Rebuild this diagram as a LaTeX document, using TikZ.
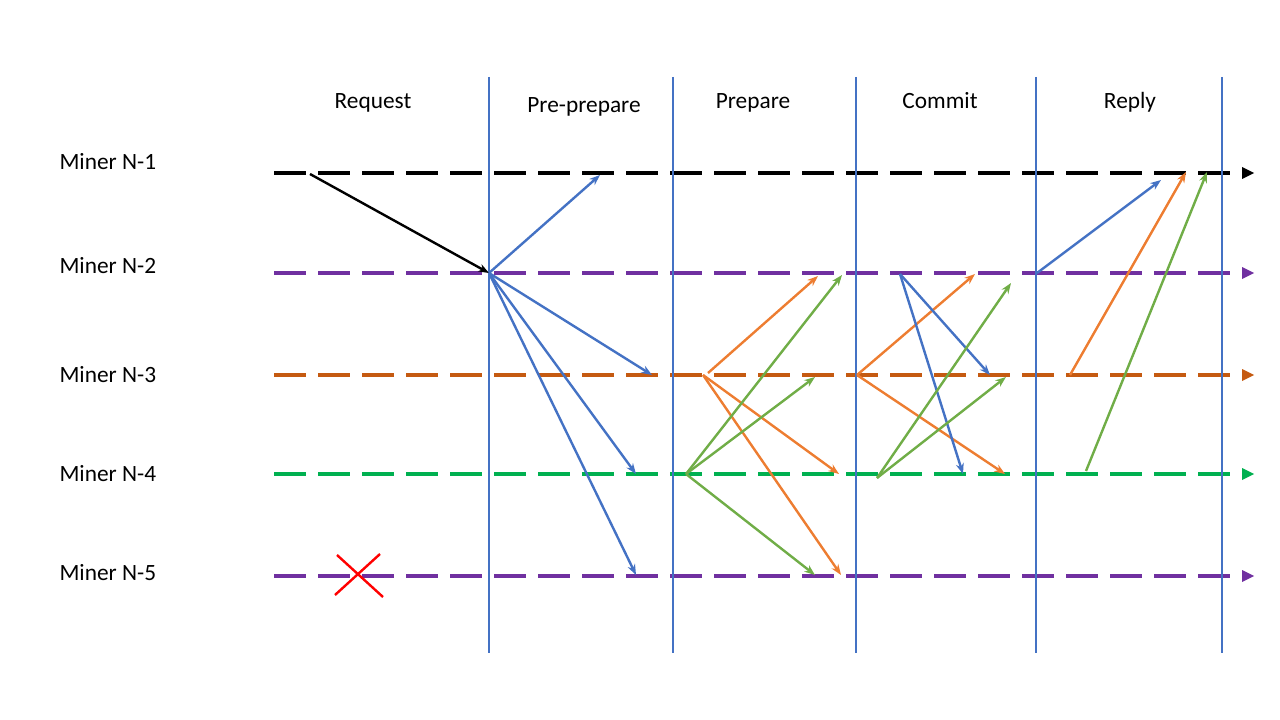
\documentclass[tikz,border=0pt]{standalone}
\usepackage{fontspec}
\setmainfont{Carlito}
\usetikzlibrary{arrows.meta}

\definecolor{lineblue}{RGB}{68,114,196}
\definecolor{msgorange}{RGB}{237,125,49}
\definecolor{lanebrown}{RGB}{197,90,17}
\definecolor{msggreen}{RGB}{112,173,71}
\definecolor{lanegreen}{RGB}{0,176,80}
\definecolor{lanepurple}{RGB}{112,48,160}

\tikzset{every picture/.style={line width=0.75pt}}
\tikzset{
  lane/.style={line width=3pt, dash pattern=on 24pt off 9pt},
  phase/.style={draw=lineblue, line width=2pt},
  msg/.style={line width=1.8pt, -{Stealth[length=8pt,width=6pt]}},
  lbl/.style={font=\fontsize{17.5}{21}\selectfont, inner sep=0pt},
}

\begin{document}
\begin{tikzpicture}[x=0.75pt,y=0.75pt,yscale=-1,xscale=1]
	\useasboundingbox (0,0) rectangle (1280,720);

	% Text Node
	\node [lbl, anchor=base] (treq) at (373,109) {Request};
	% Text Node
	\node [lbl, anchor=base] (tpre) at (584,113) {Pre-prepare};
	% Text Node
	\node [lbl, anchor=base] (tprep) at (753,109) {Prepare};
	% Text Node
	\node [lbl, anchor=base] (tcom) at (940,109) {Commit};
	% Text Node
	\node [lbl, anchor=base] (trep) at (1130,109) {Reply};
	% Text Node
	\node [lbl, anchor=base west] (tm1) at (59,170) {Miner N-1};
	% Text Node
	\node [lbl, anchor=base west] (tm2) at (59,273) {Miner N-2};
	% Text Node
	\node [lbl, anchor=base west] (tm3) at (59,382) {Miner N-3};
	% Text Node
	\node [lbl, anchor=base west] (tm4) at (59,481) {Miner N-4};
	% Text Node
	\node [lbl, anchor=base west] (tm5) at (59,580) {Miner N-5};

	%Straight Lines (miner time lines)
	\draw [lane, draw=black] (274,173) -- (1230,173) ;
	\draw [lane, draw=lanepurple] (274,273) -- (1230,273) ;
	\draw [lane, draw=lanebrown] (274,375) -- (1230,375) ;
	\draw [lane, draw=lanegreen] (274,474) -- (1230,474) ;
	\draw [lane, draw=lanepurple] (274,576) -- (1230,576) ;

	%Shape: Triangles at the end of the time lines
	\fill [black] (1242,167) -- (1254,173) -- (1242,179) -- cycle ;
	\fill [lanepurple] (1242,267) -- (1254,273) -- (1242,279) -- cycle ;
	\fill [lanebrown] (1242,369) -- (1254,375) -- (1242,381) -- cycle ;
	\fill [lanegreen] (1242,468) -- (1254,474) -- (1242,480) -- cycle ;
	\fill [lanepurple] (1242,570) -- (1254,576) -- (1242,582) -- cycle ;

	%Straight Lines (phase borders)
	\foreach \px in {489,673,856,1036,1222} {
		\draw [phase] (\px,77) -- (\px,653) ;
	}

	% request
	\coordinate (cs) at (310,174) ;
	\coordinate (p2) at (489,273) ;
	\draw [msg, black] (cs) -- (p2) ;

	% pre-prepare
	\coordinate (pp1) at (600,175) ;
	\coordinate (pp3) at (652,375) ;
	\coordinate (pp4) at (636,474) ;
	\coordinate (pp5) at (636,575) ;
	\draw [msg, lineblue] (p2) -- (pp1) ;
	\draw [msg, lineblue] (p2) -- (pp3) ;
	\draw [msg, lineblue] (p2) -- (pp4) ;
	\draw [msg, lineblue] (p2) -- (pp5) ;

	% prepare
	\coordinate (r3a) at (708,373) ;
	\coordinate (r3b) at (703,375) ;
	\coordinate (r4) at (686,474) ;
	\coordinate (ro2) at (818,276) ;
	\coordinate (ro4) at (839,474) ;
	\coordinate (ro5) at (841,575) ;
	\coordinate (rg2) at (842,275) ;
	\coordinate (rg3) at (815,377) ;
	\coordinate (rg5) at (815,575) ;
	\draw [msg, msgorange] (r3a) -- (ro2) ;
	\draw [msg, msgorange] (r3b) -- (ro4) ;
	\draw [msg, msgorange] (r3b) -- (ro5) ;
	\draw [msg, msggreen] (r4) -- (rg2) ;
	\draw [msg, msggreen] (r4) -- (rg3) ;
	\draw [msg, msggreen] (r4) -- (rg5) ;

	% commit
	\coordinate (c2) at (900,274) ;
	\coordinate (c3) at (857,375) ;
	\coordinate (c4) at (877,478) ;
	\coordinate (co2) at (975,274) ;
	\coordinate (co4) at (1005,474) ;
	\coordinate (cb3) at (990,375) ;
	\coordinate (cb4) at (963,474) ;
	\coordinate (cg2) at (1011,283) ;
	\coordinate (cg3) at (1006,377) ;
	\draw [msg, msgorange] (c3) -- (co2) ;
	\draw [msg, msgorange] (c3) -- (co4) ;
	\draw [msg, lineblue] (c2) -- (cb3) ;
	\draw [msg, lineblue] (c2) -- (cb4) ;
	\draw [msg, msggreen] (c4) -- (cg2) ;
	\draw [msg, msggreen] (c4) -- (cg3) ;

	% reply
	\coordinate (y2) at (1037,273) ;
	\coordinate (y3) at (1070,375) ;
	\coordinate (y4) at (1086,471) ;
	\coordinate (yb1) at (1161,180) ;
	\coordinate (yo1) at (1186,172) ;
	\coordinate (yg1) at (1207,172) ;
	\draw [msg, lineblue] (y2) -- (yb1) ;
	\draw [msg, msgorange] (y3) -- (yo1) ;
	\draw [msg, msggreen] (y4) -- (yg1) ;

	%Straight Lines (faulty miner)
	\draw [red, line width=1.8pt] (337,555) -- (383,597) ;
	\draw [red, line width=1.8pt] (380,554) -- (335,595) ;

\end{tikzpicture}
\end{document}
